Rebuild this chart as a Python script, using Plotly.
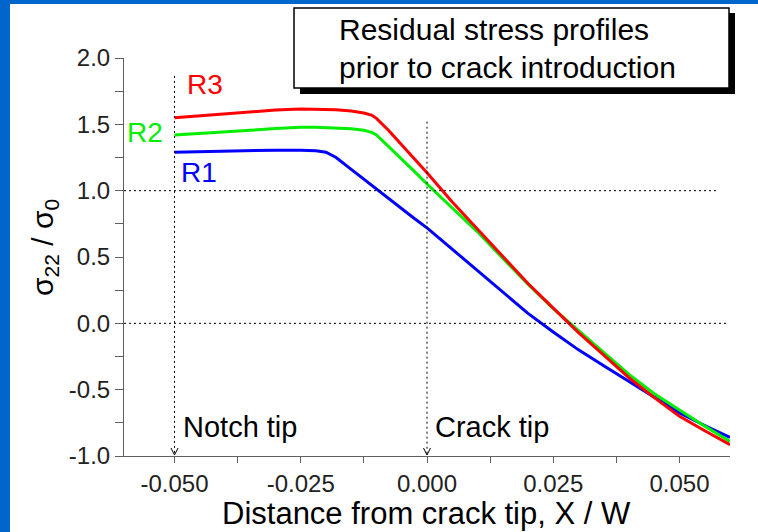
import plotly.graph_objects as go

# ---------------- data ----------------
x_pos = [-0.05, -0.045, -0.04, -0.035, -0.03, -0.025, -0.022, -0.02, -0.018, -0.015,
         -0.0125, -0.011, -0.01, -0.0075, -0.005, -0.0025, 0.0, 0.005, 0.01, 0.015,
         0.02, 0.025, 0.03, 0.035, 0.04, 0.045, 0.05, 0.055, 0.06]
r1_vals = [1.29, 1.295, 1.30, 1.30, 1.305, 1.305, 1.30, 1.29, 1.25, 1.16,
           1.085, 1.04, 1.01, 0.94, 0.865, 0.79, 0.72, 0.56, 0.40, 0.24,
           0.075, -0.065, -0.20, -0.32, -0.44, -0.56, -0.675, -0.77, -0.86]
r2_vals = [1.42, 1.43, 1.44, 1.455, 1.468, 1.478, 1.478, 1.476, 1.473, 1.466,
           1.455, 1.44, 1.42, 1.33, 1.24, 1.145, 1.05, 0.87, 0.69, 0.49,
           0.295, 0.11, -0.055, -0.215, -0.385, -0.53, -0.655, -0.775, -0.89]
r3_vals = [1.55, 1.565, 1.58, 1.595, 1.608, 1.615, 1.615, 1.613, 1.61, 1.60,
           1.585, 1.57, 1.545, 1.45, 1.345, 1.24, 1.135, 0.915, 0.71, 0.50,
           0.30, 0.115, -0.07, -0.24, -0.41, -0.56, -0.70, -0.81, -0.915]
series_names = ["R1", "R2", "R3"]

x_tickvals = [-0.05, -0.025, 0.0, 0.025, 0.05]
x_ticktext = ["-0.050", "-0.025", "0.000", "0.025", "0.050"]
y_tickvals = [-1.0, -0.5, 0.0, 0.5, 1.0, 1.5, 2.0]
y_ticktext = ["-1.0", "-0.5", "0.0", "0.5", "1.0", "1.5", "2.0"]

notch_x = -0.05
notch_top = 1.865
crack_x = 0.0
crack_top = 1.52
ref_levels = [1.0, 0.0]
ref_level_ends = [0.0573, 0.0595]

# ---------------- styling ----------------
W, H = 758, 532
ML, MR, MT, MB = 124, 28, 58, 76
PW, PH = W - ML - MR, H - MT - MB
FONT = "Liberation Sans, Arial, sans-serif"
BLUE_BG = "#0066CC"


def px_x(p):
    return (p - ML) / PW


def px_y(p):
    return (H - MB - p) / PH


colors = {"R1": "#0000FF", "R2": "#00EE00", "R3": "#FF0000"}

fig = go.Figure()
for name, vals in zip(series_names, [r1_vals, r2_vals, r3_vals]):
    fig.add_trace(go.Scatter(x=x_pos, y=vals, mode="lines", name=name,
                             line=dict(color=colors[name], width=3),
                             showlegend=False, hoverinfo="skip"))

shapes = []
# background frame: blue strips on the left and top
shapes.append(dict(type="rect", xref="paper", yref="paper",
                   x0=px_x(0), x1=px_x(10), y0=px_y(H), y1=px_y(0),
                   fillcolor=BLUE_BG, line=dict(width=0), layer="below"))
shapes.append(dict(type="rect", xref="paper", yref="paper",
                   x0=px_x(0), x1=px_x(W), y0=px_y(4), y1=px_y(0),
                   fillcolor=BLUE_BG, line=dict(width=0), layer="below"))

# dotted guide lines
dot = "2px,3px"
for lvl, xe in zip(ref_levels, ref_level_ends):
    shapes.append(dict(type="line", xref="x", yref="y", x0=-0.06, x1=xe, y0=lvl, y1=lvl,
                       line=dict(color="black", width=1, dash=dot)))
for vx, top in [(notch_x, notch_top), (crack_x, crack_top)]:
    shapes.append(dict(type="line", xref="x", yref="y", x0=vx, x1=vx, y0=top, y1=-1.0,
                       line=dict(color="black", width=1, dash=dot)))
    for side in (-1, 1):
        shapes.append(dict(type="line", xref="x", yref="y",
                           xsizemode="pixel", ysizemode="pixel",
                           xanchor=vx, yanchor=-1.0,
                           x0=side * 3.5, y0=8, x1=0, y1=1,
                           line=dict(color="black", width=1)))

# title box with shadow
shapes.append(dict(type="rect", xref="paper", yref="paper",
                   x0=px_x(300), x1=px_x(735), y0=px_y(94), y1=px_y(13),
                   fillcolor="black", line=dict(width=0)))
shapes.append(dict(type="rect", xref="paper", yref="paper",
                   x0=px_x(294), x1=px_x(729), y0=px_y(88), y1=px_y(8),
                   fillcolor="white", line=dict(color="black", width=1.5)))

annotations = []
annotations.append(dict(text="Residual stress profiles", xref="paper", yref="paper",
                        x=px_x(337), y=px_y(30), xanchor="left", yanchor="middle",
                        showarrow=False, font=dict(family=FONT, size=30, color="black")))
annotations.append(dict(text="prior to crack introduction", xref="paper", yref="paper",
                        x=px_x(337), y=px_y(67), xanchor="left", yanchor="middle",
                        showarrow=False, font=dict(family=FONT, size=30, color="black")))

# series labels
label_pos = {"R3": (-0.0439, 1.80), "R2": (-0.0558, 1.436), "R1": (-0.0452, 1.135)}
for name in series_names:
    lx, ly = label_pos[name]
    annotations.append(dict(text=name, xref="x", yref="y", x=lx, y=ly,
                            xanchor="center", yanchor="middle", showarrow=False,
                            font=dict(family=FONT, size=28, color=colors[name])))

annotations.append(dict(text="Notch tip", xref="x", yref="y", x=-0.0487, y=-0.78,
                        xanchor="left", yanchor="middle", showarrow=False,
                        font=dict(family=FONT, size=29, color="black")))
annotations.append(dict(text="Crack tip", xref="x", yref="y", x=0.0012, y=-0.78,
                        xanchor="left", yanchor="middle", showarrow=False,
                        font=dict(family=FONT, size=29, color="black")))

# axis titles
annotations.append(dict(text="Distance from crack tip, X / W", xref="paper", yref="paper",
                        x=px_x(426), y=px_y(513), xanchor="center", yanchor="middle",
                        showarrow=False, font=dict(family=FONT, size=31, color="black")))
annotations.append(dict(text="σ<sub>22</sub> / σ<sub>0</sub>", xref="paper", yref="paper",
                        x=px_x(45), y=px_y(248), xanchor="center", yanchor="middle",
                        textangle=-90, showarrow=False,
                        font=dict(family=FONT, size=30, color="black")))

axis_col = "#606060"
tick_font = dict(family=FONT, size=24, color="#222222")
fig.update_layout(
    width=W, height=H,
    margin=dict(l=ML, r=MR, t=MT, b=MB, pad=0),
    paper_bgcolor="white", plot_bgcolor="white",
    shapes=shapes, annotations=annotations,
    showlegend=False,
    xaxis=dict(range=[-0.06, 0.06], showgrid=False, zeroline=False,
               showline=True, linecolor=axis_col, linewidth=1,
               ticks="outside", ticklen=6, tickcolor=axis_col,
               tickmode="array", tickvals=x_tickvals, ticktext=x_ticktext,
               tickfont=tick_font,
               minor=dict(tickmode="linear", tick0=0.0, dtick=0.0125, ticks="outside",
                          ticklen=6, tickcolor=axis_col, showgrid=False)),
    yaxis=dict(range=[-1.0, 2.0], showgrid=False, zeroline=False,
               showline=True, linecolor=axis_col, linewidth=1,
               ticks="outside", ticklen=8, tickcolor=axis_col,
               tickmode="array", tickvals=y_tickvals, ticktext=y_ticktext,
               tickfont=tick_font,
               minor=dict(tickmode="linear", tick0=0.0, dtick=0.25, ticks="outside",
                          ticklen=8, tickcolor=axis_col, showgrid=False)),
)

fig.write_html("out.html", config={"displayModeBar": False},
               post_script="document.body.style.margin='0';document.body.style.overflow='hidden';")
